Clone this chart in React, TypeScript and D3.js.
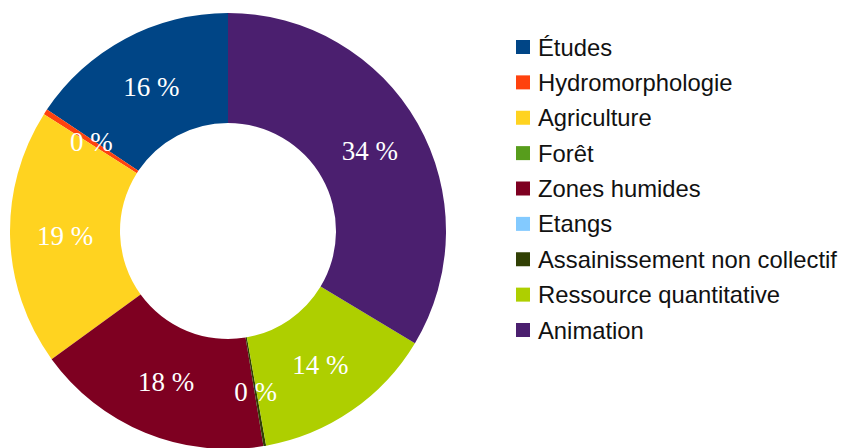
import React from "react";
import * as d3 from "d3";

const categories = [
  "Études",
  "Hydromorphologie",
  "Agriculture",
  "Forêt",
  "Zones humides",
  "Etangs",
  "Assainissement non collectif",
  "Ressource quantitative",
  "Animation",
];
const values = [156, 4, 190, 0, 176, 0, 2, 136, 336];
const colors = [
  "#004586",
  "#ff420e",
  "#ffd320",
  "#579d1c",
  "#7e0021",
  "#83caff",
  "#314004",
  "#aecf00",
  "#4b1f6f",
];

const W = 844;
const H = 448;
const cx = 228;
const cy = 231;
const outerR = 218;
const innerR = 108;

export default function App() {
  const data = categories.map((c, i) => ({ name: c, value: values[i], color: colors[i], idx: i }));
  const total = d3.sum(values);
  // slices run counter-clockwise from 12 o'clock in legend order
  const pie = d3
    .pie<any>()
    .value((d) => d.value)
    .sort(null)
    .startAngle(0)
    .endAngle(-2 * Math.PI);
  const arcs = pie(data);
  const arc = d3.arc<any>().innerRadius(innerR).outerRadius(outerR);
  const labelArc = d3
    .arc<any>()
    .innerRadius((innerR + outerR) / 2)
    .outerRadius((innerR + outerR) / 2);

  const legendY = d3
    .scalePoint<string>()
    .domain(categories)
    .range([47, 330]);

  return (
    <svg
      width={W}
      height={H}
      style={{ position: "absolute", left: 0, top: 0, background: "#fff" }}
    >
      <g transform={`translate(${cx},${cy})`}>
        {arcs.map((a, i) =>
          a.data.value > 0 ? (
            <path key={i} d={arc(a) as string} fill={a.data.color} />
          ) : null
        )}
        {arcs.map((a, i) => {
          if (a.data.value <= 0) return null;
          const [x, y] = labelArc.centroid(a);
          return (
            <text
              key={"l" + i}
              x={x}
              y={y}
              textAnchor="middle"
              dominantBaseline="central"
              fill="#fff"
              fontFamily="'Liberation Serif', serif"
              fontSize={27}
            >
              {Math.round((a.data.value / total) * 100)} %
            </text>
          );
        })}
      </g>
      <g>
        {categories.map((c, i) => (
          <g key={c} transform={`translate(516,${legendY(c)})`}>
            <rect x={0} y={-7} width={14} height={14} fill={colors[i]} />
            <text
              x={22}
              y={0}
              dominantBaseline="central"
              fontFamily="'Liberation Sans', Arial, sans-serif"
              fontSize={23.8}
              fill="#111"
            >
              {c}
            </text>
          </g>
        ))}
      </g>
    </svg>
  );
}
